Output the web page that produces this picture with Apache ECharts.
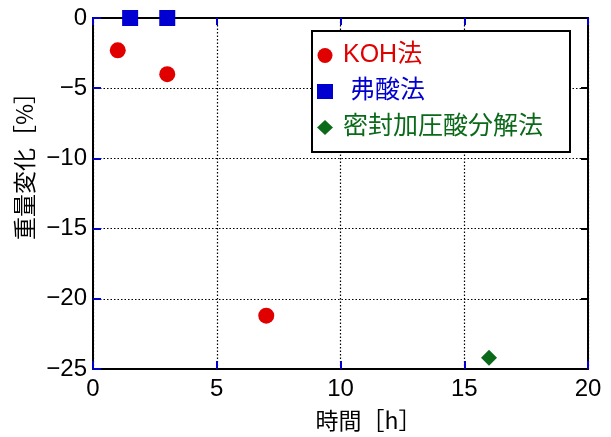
<!DOCTYPE html>
<html><head><meta charset="utf-8">
<script src="https://cdn.jsdelivr.net/npm/echarts@6/dist/echarts.min.js"></script>
<style>html,body{margin:0;padding:0;background:#fff}#c{width:611px;height:437px}</style>
</head><body><div id="c"></div>
<script>
const seriesNames = ['KOH法', ' 弗酸法', '密封加圧酸分解法'];
const kohData = [[1, -2.3], [3, -4.0], [7, -21.2]];
const hfData = [[1.5, 0], [3, 0]];
const sealedData = [[16, -24.2]];
const xTicks = [0, 5, 10, 15, 20];
const yTicks = [-25, -20, -15, -10, -5, 0];

const RED = '#e00000', BLUE = '#0000d0', GREEN = '#0b6a1a';
const chart = echarts.init(document.getElementById('c'));
const num = '"Liberation Sans", sans-serif';
const jp = '"Noto Sans CJK JP", sans-serif';
const lg = '"Liberation Sans", "Noto Sans CJK JP", sans-serif';
const dotted = {show: true, lineStyle: {color: '#000', type: [1.5, 2], width: 1.2}};
chart.setOption({
  animation: false,
  grid: {left: 93, right: 23, top: 18, bottom: 66},
  xAxis: [{
    type: 'value', min: xTicks[0], max: xTicks[xTicks.length - 1], interval: 5,
    name: '時間［h］', nameLocation: 'middle', nameGap: 40,
    nameTextStyle: {fontFamily: jp, fontSize: 23, color: '#000', padding: [0, 0, 0, 56]},
    axisLine: {show: true, onZero: false, lineStyle: {color: '#000', width: 2}},
    axisTick: {show: true, inside: true, length: 8, lineStyle: {color: '#0000cc', width: 2}},
    axisLabel: {fontFamily: num, fontSize: 24, color: '#000', margin: 8},
    splitLine: dotted
  }, {
    type: 'value', position: 'top', min: 0, max: 20, interval: 5,
    axisLine: {show: true, onZero: false, lineStyle: {color: '#000', width: 2}},
    axisTick: {show: true, inside: true, length: 7, lineStyle: {color: '#0000cc', width: 2}},
    axisLabel: {show: false}, splitLine: {show: false}
  }],
  yAxis: [{
    type: 'value', min: yTicks[0], max: yTicks[yTicks.length - 1], interval: 5,
    name: '重量変化［%］', nameLocation: 'middle', nameGap: 50,
    nameTextStyle: {fontFamily: jp, fontSize: 23, color: '#000', padding: [0, 0, 0, 66]},
    axisLine: {show: true, onZero: false, lineStyle: {color: '#000', width: 2}},
    axisTick: {show: true, inside: true, length: 8, lineStyle: {color: '#0000cc', width: 2}},
    axisLabel: {fontFamily: num, fontSize: 24, color: '#000', margin: 6,
      formatter: v => String(v).replace('-', '\u2212')},
    splitLine: dotted
  }, {
    type: 'value', position: 'right', min: -25, max: 0, interval: 5,
    axisLine: {show: true, onZero: false, lineStyle: {color: '#000', width: 2}},
    axisTick: {show: true, inside: true, length: 7, lineStyle: {color: '#000', width: 2}},
    axisLabel: {show: false}, splitLine: {show: false}
  }],
  legend: {
    orient: 'vertical', left: 312, top: 31, width: 257,
    padding: [12, 27, 12, 5], itemGap: 11,
    borderColor: '#000', borderWidth: 2, backgroundColor: '#fff', borderRadius: 0,
    itemWidth: 16, itemHeight: 15,
    data: [
      {name: seriesNames[0], textStyle: {color: RED, fontFamily: lg, fontSize: 25, padding: [0, 0, 0, 5]}},
      {name: seriesNames[1], textStyle: {color: BLUE, fontFamily: lg, fontSize: 25, padding: [0, 0, 0, 5]}},
      {name: seriesNames[2], textStyle: {color: GREEN, fontFamily: lg, fontSize: 25, padding: [0, 0, 0, 5]}}
    ]
  },
  series: [
    {name: seriesNames[0], type: 'scatter', data: kohData, symbol: 'circle', symbolSize: 16, itemStyle: {color: RED, opacity: 1}, z: 5},
    {name: seriesNames[1], type: 'scatter', data: hfData, symbol: 'rect', symbolSize: 16, itemStyle: {color: BLUE, opacity: 1}, z: 5, clip: false},
    {name: seriesNames[2], type: 'scatter', data: sealedData, symbol: 'diamond', symbolSize: 16, itemStyle: {color: GREEN, opacity: 1}, z: 5}
  ]
});
</script></body></html>
